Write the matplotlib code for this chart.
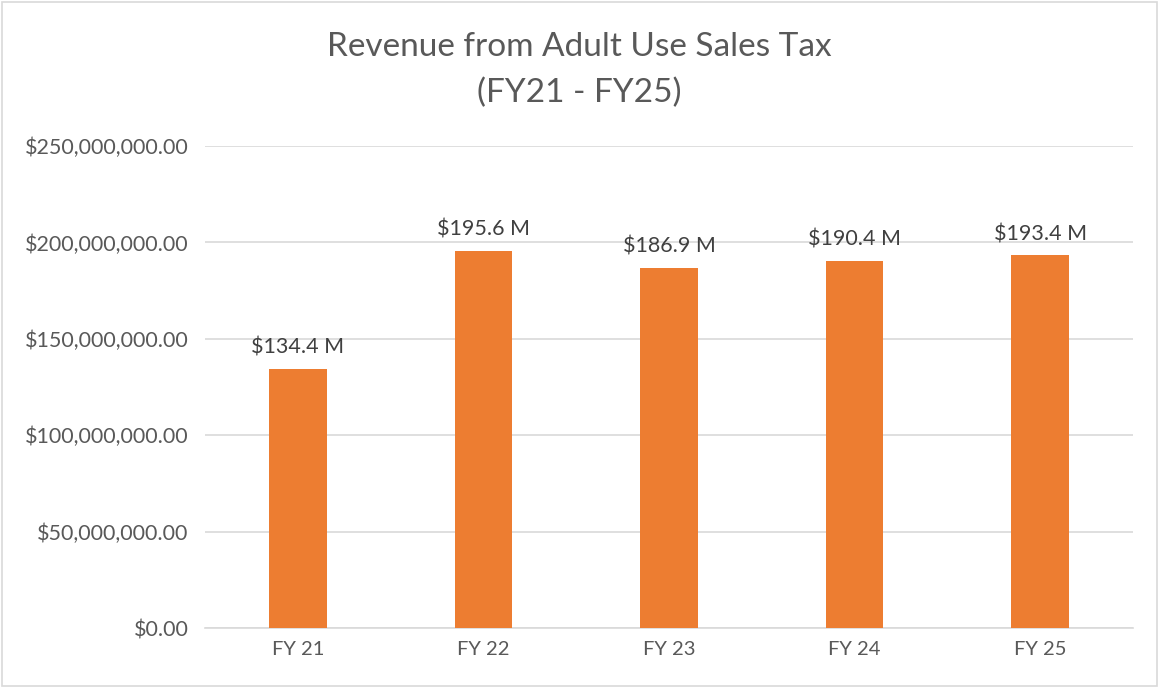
import matplotlib.pyplot as plt
from matplotlib.patches import Rectangle
from matplotlib.ticker import FuncFormatter

plt.rcParams["font.family"] = ["Lato", "DejaVu Sans"]

categories = ["FY 21", "FY 22", "FY 23", "FY 24", "FY 25"]
revenue = [134.4e6, 195.6e6, 186.9e6, 190.4e6, 193.4e6]
labels = ["$134.4 M", "$195.6 M", "$186.9 M", "$190.4 M", "$193.4 M"]

BAR = "#ED7D31"
TEXT = "#595959"
GRID = "#D9D9D9"

fig = plt.figure(figsize=(11.59, 6.88), dpi=100)
ax = fig.add_axes([0.1769, 0.0872, 0.8007, 0.7006])

xs = list(range(len(categories)))
ax.bar(xs, revenue, width=0.31, color=BAR, zorder=3)

for x, v, lab in zip(xs, revenue, labels):
    ax.annotate(lab, xy=(x, v), xytext=(0, 8), textcoords="offset points",
                ha="center", va="bottom", fontsize=15.5, color="#404040")

ax.set_xlim(-0.5, len(categories) - 0.5)
ax.set_ylim(0, 250e6)
ax.set_yticks([0, 50e6, 100e6, 150e6, 200e6, 250e6])
ax.yaxis.set_major_formatter(FuncFormatter(lambda v, p: f"${v:,.2f}"))
ax.set_xticks(xs)
ax.set_xticklabels(categories)
ax.tick_params(axis="both", length=0, colors=TEXT)
ax.tick_params(axis="x", pad=9, labelsize=14.5)
ax.tick_params(axis="y", pad=12, labelsize=15.5)
ax.grid(axis="y", color=GRID, linewidth=1.2, zorder=0)
for s in ("top", "right", "left"):
    ax.spines[s].set_visible(False)
ax.spines["bottom"].set_color(GRID)
ax.spines["bottom"].set_linewidth(1.2)

fig.text(0.5, 0.9317, "Revenue from Adult Use Sales Tax",
         ha="center", va="center", fontsize=24, color=TEXT)
fig.text(0.5, 0.8648, "(FY21 - FY25)",
         ha="center", va="center", fontsize=24, color=TEXT)

fig.patches.append(Rectangle((0.002, 0.003), 0.996, 0.994, transform=fig.transFigure,
                             fill=False, edgecolor="#D9D9D9", linewidth=1.2))

fig.savefig("out.png", dpi=100)
